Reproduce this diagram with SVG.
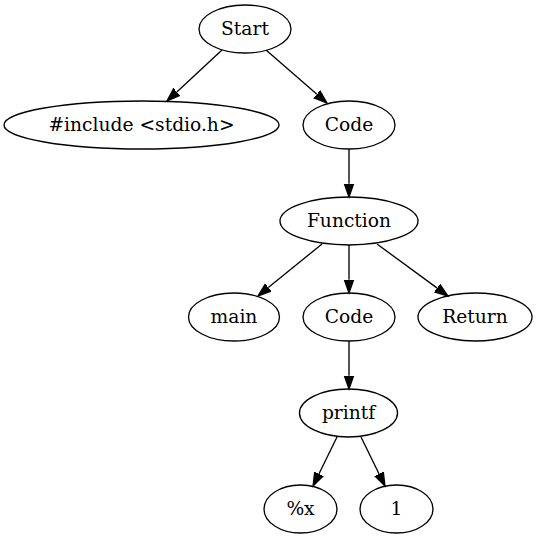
<svg xmlns="http://www.w3.org/2000/svg" width="538" height="539" viewBox="0 0 538 539">
<defs>
<marker id="ah" markerUnits="userSpaceOnUse" markerWidth="16" markerHeight="12" refX="0" refY="0" viewBox="0 -6 16 12" orient="auto">
<path d="M0,-4.67 L13.33,0 L0,4.67 Z" fill="#000" stroke="#000" stroke-width="1.3"/>
</marker>
<style>
.n ellipse{fill:none;stroke:#000;stroke-width:1.33}
.n text{font-family:"DejaVu Serif","Liberation Serif",serif;font-size:18.67px;text-anchor:middle;fill:#000}
#edges line{stroke:#000;stroke-width:1.33;marker-end:url(#ah)}
</style>
</defs>
<rect width="538" height="539" fill="#fff"/>
<g id="edges">
<line x1="222" y1="50" x2="176.8" y2="91.9"/>
<line x1="266" y1="50" x2="316.9" y2="94.3"/>
<line x1="349" y1="149" x2="349" y2="183.7"/>
<line x1="322" y1="244" x2="268.3" y2="287.6"/>
<line x1="349" y1="245" x2="349" y2="279.7"/>
<line x1="377" y1="244" x2="437.2" y2="288.1"/>
<line x1="349" y1="341" x2="349" y2="375.7"/>
<line x1="337" y1="437" x2="318.9" y2="474"/>
<line x1="361" y1="437" x2="379.1" y2="474"/>
</g>
<g id="start" class="n"><ellipse cx="245" cy="29" rx="46" ry="24"/><text x="245" y="35">Start</text></g>
<g id="include" class="n"><ellipse cx="141.5" cy="125" rx="137.5" ry="24"/><text x="141.5" y="131">#include &lt;stdio.h&gt;</text></g>
<g id="code1" class="n"><ellipse cx="349" cy="125" rx="46" ry="24"/><text x="349" y="131">Code</text></g>
<g id="function" class="n"><ellipse cx="349" cy="221" rx="69" ry="24"/><text x="349" y="227">Function</text></g>
<g id="main" class="n"><ellipse cx="234" cy="317" rx="45.5" ry="24"/><text x="234" y="323">main</text></g>
<g id="code2" class="n"><ellipse cx="349" cy="317" rx="46" ry="24"/><text x="349" y="323">Code</text></g>
<g id="return" class="n"><ellipse cx="475" cy="317" rx="57" ry="24"/><text x="475" y="323">Return</text></g>
<g id="printf" class="n"><ellipse cx="348.5" cy="413" rx="49" ry="24"/><text x="348.5" y="419">printf</text></g>
<g id="pctx" class="n"><ellipse cx="300.5" cy="509" rx="36.5" ry="24"/><text x="300.5" y="515">%x</text></g>
<g id="one" class="n"><ellipse cx="396.5" cy="509" rx="36.5" ry="24"/><text x="396.5" y="515">1</text></g>
</svg>
